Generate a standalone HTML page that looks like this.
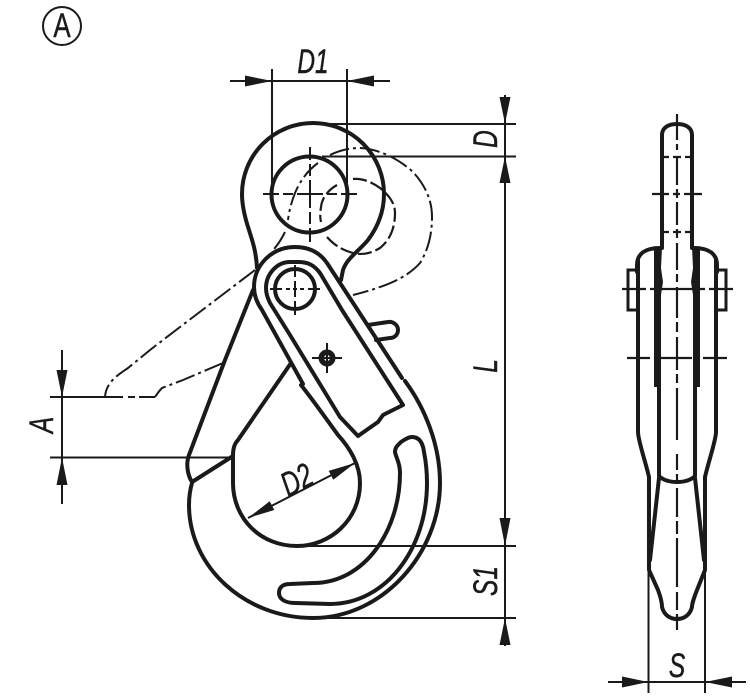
<!DOCTYPE html>
<html><head><meta charset="utf-8"><style>
html,body{margin:0;padding:0;background:#fff}
svg{display:block}
text{font-family:"Liberation Sans",sans-serif;font-size:34px;fill:#1a1a1a;font-style:italic;stroke:#1a1a1a;stroke-width:.5}
.k{fill:none;stroke:#1a1a1a;stroke-width:4;stroke-linejoin:round;stroke-linecap:round}
.t{fill:none;stroke:#1a1a1a;stroke-width:2}
.h{fill:none;stroke:#1a1a1a;stroke-width:2}
.p{fill:none;stroke:#1a1a1a;stroke-width:2;stroke-dasharray:20 4 3 4}
.d{fill:none;stroke:#1a1a1a;stroke-width:2.200;stroke-dasharray:14 4}
polygon{fill:#1a1a1a}
</style></head><body>
<svg width="750" height="698" viewBox="0 0 750 698" xmlns="http://www.w3.org/2000/svg">
<circle cx="62" cy="26" r="19" fill="none" stroke="#1a1a1a" stroke-width="2"/>
<text transform="translate(62 37) scale(.76 1)" text-anchor="middle" style="font-style:normal">A</text>

<!-- phantom -->
<path class="p" d="M330 155C340 150 350 148 360 148C380 149 400 160 413 172C425 185 432 200 432 217C432 235 428 250 420 263C405 280 380 288 353 295"/>
<path class="d" d="M353 179C362 178 372 182 380 188C390 196 395 204 395 213C395 228 390 240 380 248C370 254 362 255 353 253C342 250 334 245 327 237"/>
<path class="d" d="M337 185C328 190 322 198 321 207C320 214 320 218 321 222"/>
<path class="p" d="M318 163C308 170 300 181 295 193C291 203 289 212 288 220M285 232C282 238 278 245 273 250"/>
<path class="p" d="M255 270L180 327L150 350L128 368C118 375 106 382 105 397"/>
<path class="p" d="M223 363L183 380L162 388C159 391 157 394 155 397"/>
<path class="t" d="M105 397H123M128 397H135M139 397H155"/>

<!-- main outlines -->
<path class="k" d="M257 268C256 250 252 240 249 230C245 218 242 206 242 194A71 71 0 0 1 384 194C384 212 377 228 368 240C358 252 347 258 343 270L341 280"/>
<circle class="k" cx="309.500" cy="194.500" r="38"/>
<path class="k" d="M402 378L327 263C318 250 305 247 295 247C272 247 254 265 254 287C254 296 257 303 262 310L303 384"/>
<path class="k" d="M403 405L342 310L320 273C314 265 308 262 298 262H290C277 262 266 274 266 288C266 294 268 299 270 303L290 335L340 417L358 436L378 422L383 415Z"/>
<circle class="k" cx="295" cy="289" r="20"/>
<path class="k" d="M301 385C313 400 327 420 338 435C350 448 360 465 360 483C360 520 330 546 297 546C260 546 233 518 233 483V455C233 447 235 443 238 440L291 363"/>
<path class="k" d="M192 483C190 490 189 497 189 505C189 567 245 618 313 618C383 618 440 553 440 483C440 445 425 408 405 381"/>
<path class="k" d="M253 290L225 360L189 455C186 463 187 474 192 482L233 456"/>
<path class="k" d="M412 437C420 437 423 444 424 452C426 462 427 472 427 483C427 550 385 604 330 604L295 603C285 603 279 599 279 593C279 587 283 584 290 584L313 583C365 583 400 530 400 473C400 462 396 458 395 452C395 447 398 445 401 442C404 440 408 437 412 437Z"/>
<path class="k" d="M368 325L388 322C393 321 398 325 398 330C398 335 394 338 390 338L376 340"/>

<!-- center marks -->
<path class="h" d="M263 194H279M283 194H293M297 194H323M327 194H337M341 194H357"/>
<path class="h" d="M310 147V160M310 164V176M310 180V208M310 212V224M310 228V242"/>
<path class="h" d="M270 289H282M286 289H290M293 289H297M300 289H304M308 289H320"/>
<path class="h" d="M295 265V277M295 281V297M295 301V315"/>
<circle cx="327" cy="358" r="8.500" fill="#1a1a1a"/>
<circle cx="327" cy="358" r="3" fill="#fff"/>
<path class="h" d="M312 358H342M327 343V373"/>

<!-- dimensions left group -->
<path class="t" d="M272 69V195M347 69V197M230 81H390"/>
<polygon points="272,81 245,75.500 245,86.500"/>
<polygon points="347,81 374,75.500 374,86.500"/>
<path class="t" d="M320 124H516M322 156.500H516M300 546H516M320 618H516M505 95V183M505 156V646"/>
<polygon points="505,123.500 499.500,97 510.500,97"/>
<polygon points="505,156.500 499.500,183 510.500,183"/>
<polygon points="505,546 499.500,518 510.500,518"/>
<polygon points="505,618 499.500,645 510.500,645"/>
<path class="t" d="M50 397H105M50 457.500H233M62 350V504"/>
<polygon points="62,397 56.500,370 67.500,370"/>
<polygon points="62,457.500 56.500,485 67.500,485"/>
<path class="t" d="M248 518L355 463"/>
<polygon points="248,518 274.300,510 269.700,501.300"/>
<polygon points="355,463 333.300,479.700 328.700,470.900"/>

<text transform="translate(313 73) scale(.72 1)" text-anchor="middle">D1</text>
<text transform="translate(497 139) rotate(-90) scale(.72 1)" text-anchor="middle">D</text>
<text transform="translate(497 366) rotate(-90) scale(.72 1)" text-anchor="middle">L</text>
<text transform="translate(497 581) rotate(-90) scale(.72 1)" text-anchor="middle">S1</text>
<text transform="translate(53 425) rotate(-90) scale(.72 1)" text-anchor="middle">A</text>
<text transform="translate(302 490) rotate(-27) scale(.72 1)" text-anchor="middle">D2</text>
<text transform="translate(677 677) scale(.72 1)" text-anchor="middle">S</text>

<!-- side view -->
<path class="k" d="M662 248V135C662 128 668 124 677 124C686 124 692 128 692 135V248"/>
<path class="k" d="M637 272V265C637 254 645 248 660 248M717 272V265C717 254 709 248 694 248"/>
<path class="k" d="M638 260V432C638 440 645 460 649 477V570L658 590C661 598 662 603 662 607C664 615 670 619 677 619C684 619 690 615 692 607C692 603 694 598 697 590L705 570V477C709 460 716 440 716 432V260"/>
<path class="t" style="stroke-width:3" d="M638 270H628V310H638M716 270H726V310H716"/>
<polygon points="654,250 662,247 661,268 663,282 661,295 661,387 654,387"/>
<polygon points="700,250 692,247 693,268 691,282 693,295 693,387 700,387"/>
<path class="k" d="M659 387V476C663 480 670 482 677 482C684 482 691 480 695 476V387"/>
<path class="k" d="M659 478L650 560M695 478L704 560"/>
<path class="h" d="M677 114V140M677 144V150M677 156V185M677 189V198M677 202V225M677 229V238M677 243V270M677 274V282M677 287V318M677 322V332M677 337V370M677 374V383M677 388V440M677 454V470M677 474V484M677 488V517M677 521V534M677 538V587M677 592V610M677 614V630" style="stroke-width:2.200"/>
<path class="h" d="M663 157H669M673 157H681M685 157H691M652 194H669M673 194H680M684 194H702M664 232H669M673 232H681M685 232H690M622 289H646M650 289H705M709 289H733M627 358H650M654 358H692M703 358H727" style="stroke-width:2.200"/>
<path class="t" d="M648.500 570V693M705 570V693M608 682H746"/>
<polygon points="648.500,682 622,676.500 622,687.500"/>
<polygon points="705,682 732,676.500 732,687.500"/>
</svg>
</body></html>
